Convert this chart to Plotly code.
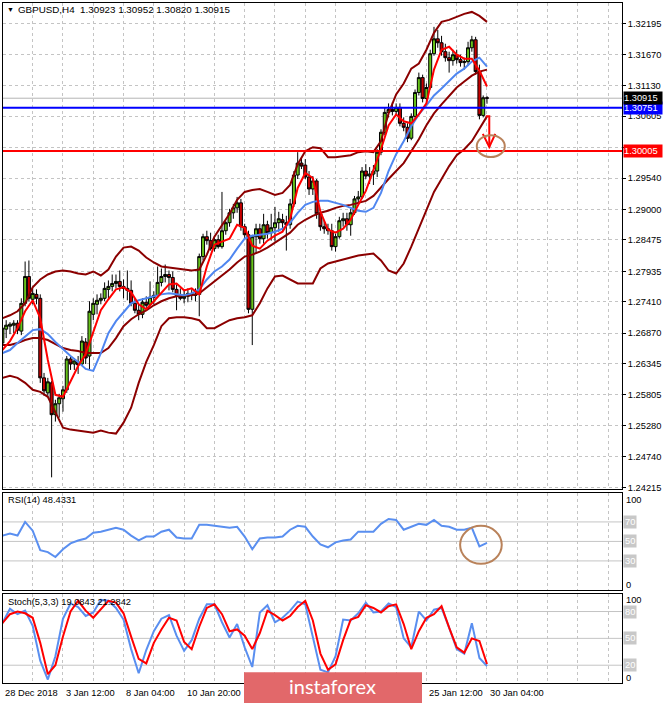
import plotly.graph_objects as go

# ---------------- data ----------------
symbol = "GBPUSD,H4"
bars = list(range(129))
open_ = [1.26698, 1.26938, 1.26989, 1.27006, 1.27040, 1.26904, 1.27383, 1.27845, 1.27452, 1.27537,
         1.27469, 1.26099, 1.25841, 1.26013, 1.25465, 1.25653, 1.25739, 1.25893, 1.26424, 1.26338,
         1.26373, 1.26338, 1.26716, 1.26475, 1.27194, 1.27366, 1.27435, 1.27469, 1.27623, 1.27674,
         1.27725, 1.27760, 1.27674, 1.27640, 1.27606, 1.27383, 1.27263, 1.27194, 1.27401, 1.27366,
         1.27486, 1.27520, 1.27743, 1.27845, 1.27879, 1.27828, 1.27623, 1.27520, 1.27469, 1.27503,
         1.27554, 1.27520, 1.27537, 1.28188, 1.28530, 1.28462, 1.28325, 1.28479, 1.28359, 1.28633,
         1.28771, 1.28942, 1.29027, 1.29113, 1.28702, 1.28564, 1.27280, 1.28530, 1.28667, 1.28496,
         1.28736, 1.28599, 1.28685, 1.28771, 1.28822, 1.28771, 1.28736, 1.29095, 1.29592, 1.29798,
         1.29763, 1.29558, 1.29352, 1.29490, 1.28924, 1.28702, 1.28667, 1.28633, 1.28359, 1.28530,
         1.28805, 1.28839, 1.28736, 1.28942, 1.29181, 1.29215, 1.29661, 1.29575, 1.29609, 1.29661,
         1.29986, 1.30329, 1.30671, 1.30722, 1.30688, 1.30757, 1.30483, 1.30414, 1.30226, 1.30602,
         1.31014, 1.31270, 1.30911, 1.31099, 1.31682, 1.31938, 1.31870, 1.31716, 1.31613, 1.31562,
         1.31664, 1.31579, 1.31528, 1.31545, 1.31784, 1.31921, 1.31373, 1.30619, 1.30923]
high = [1.27040, 1.27092, 1.27058, 1.27092, 1.27092, 1.27469, 1.28103, 1.28120, 1.27640, 1.27623,
        1.27537, 1.26184, 1.26099, 1.26048, 1.25722, 1.25824, 1.25962, 1.26475, 1.26492, 1.26441,
        1.26475, 1.26818, 1.26784, 1.27418, 1.27469, 1.27537, 1.27554, 1.27743, 1.27777, 1.27879,
        1.27879, 1.27948, 1.27794, 1.27948, 1.27777, 1.27469, 1.27366, 1.27469, 1.27503, 1.27760,
        1.27589, 1.28017, 1.27982, 1.28051, 1.27948, 1.27931, 1.27708, 1.27640, 1.27606, 1.27640,
        1.27623, 1.27640, 1.28239, 1.28581, 1.28633, 1.28599, 1.28530, 1.28564, 1.29301, 1.28805,
        1.29010, 1.29095, 1.29215, 1.29181, 1.28753, 1.28633, 1.28564, 1.28753, 1.28753, 1.28924,
        1.28805, 1.28924, 1.29044, 1.28959, 1.28924, 1.28890, 1.29181, 1.29661, 1.29986, 1.29900,
        1.29866, 1.29661, 1.29575, 1.29524, 1.28976, 1.28805, 1.28753, 1.28753, 1.28581, 1.28873,
        1.28942, 1.28942, 1.29010, 1.29232, 1.29318, 1.29729, 1.29780, 1.29729, 1.29763, 1.30037,
        1.30380, 1.30757, 1.30826, 1.30843, 1.30826, 1.30826, 1.30585, 1.30483, 1.30654, 1.31065,
        1.31356, 1.31321, 1.31168, 1.31750, 1.32144, 1.32092, 1.31989, 1.31853, 1.31716, 1.31750,
        1.31750, 1.31664, 1.31613, 1.31887, 1.31989, 1.31972, 1.31493, 1.30962, 1.30952]
low = [1.26355, 1.26784, 1.26852, 1.26869, 1.26852, 1.26835, 1.27332, 1.27418, 1.27366, 1.27366,
       1.26013, 1.25790, 1.25790, 1.24386, 1.25346, 1.25414, 1.25517, 1.25841, 1.26236, 1.26236,
       1.26167, 1.26304, 1.26338, 1.26236, 1.27092, 1.27194, 1.27366, 1.27418, 1.27469, 1.27589,
       1.27640, 1.27589, 1.27469, 1.27435, 1.27332, 1.27211, 1.27092, 1.27126, 1.27263, 1.27332,
       1.27366, 1.27503, 1.27674, 1.27743, 1.27606, 1.27572, 1.27263, 1.27435, 1.27383, 1.27401,
       1.27435, 1.27418, 1.27160, 1.28120, 1.28393, 1.28291, 1.28274, 1.28325, 1.28325, 1.28564,
       1.28702, 1.28839, 1.28942, 1.28633, 1.28496, 1.27211, 1.26664, 1.28239, 1.28410, 1.28410,
       1.28496, 1.28462, 1.28445, 1.28616, 1.28633, 1.28291, 1.28667, 1.29044, 1.29524, 1.29695,
       1.29524, 1.29249, 1.29249, 1.28839, 1.28633, 1.28581, 1.28564, 1.28291, 1.28274, 1.28496,
       1.28702, 1.28633, 1.28547, 1.28907, 1.29078, 1.29181, 1.29524, 1.29438, 1.29421, 1.29558,
       1.29934, 1.30277, 1.30585, 1.30619, 1.30619, 1.30431, 1.30346, 1.30158, 1.30192, 1.30551,
       1.30962, 1.30843, 1.30826, 1.31065, 1.31647, 1.31784, 1.31647, 1.31545, 1.31356, 1.31476,
       1.31511, 1.31459, 1.31407, 1.31476, 1.31716, 1.31321, 1.30551, 1.30585, 1.30820]
close = [1.26955, 1.27006, 1.27023, 1.27040, 1.26921, 1.27383, 1.27845, 1.27469, 1.27554, 1.27469,
         1.26099, 1.25876, 1.26031, 1.25465, 1.25653, 1.25756, 1.25893, 1.26424, 1.26338, 1.26390,
         1.26321, 1.26733, 1.26441, 1.27246, 1.27383, 1.27435, 1.27469, 1.27640, 1.27674, 1.27725,
         1.27760, 1.27674, 1.27640, 1.27606, 1.27383, 1.27263, 1.27194, 1.27401, 1.27349, 1.27486,
         1.27520, 1.27743, 1.27845, 1.27879, 1.27828, 1.27623, 1.27520, 1.27469, 1.27503, 1.27554,
         1.27520, 1.27537, 1.28188, 1.28530, 1.28462, 1.28325, 1.28479, 1.28359, 1.28633, 1.28771,
         1.28942, 1.29027, 1.29113, 1.28702, 1.28564, 1.27280, 1.28530, 1.28667, 1.28496, 1.28736,
         1.28599, 1.28685, 1.28771, 1.28839, 1.28771, 1.28736, 1.29095, 1.29592, 1.29798, 1.29746,
         1.29558, 1.29352, 1.29490, 1.28924, 1.28702, 1.28667, 1.28633, 1.28359, 1.28530, 1.28805,
         1.28839, 1.28736, 1.28942, 1.29181, 1.29215, 1.29661, 1.29575, 1.29609, 1.29661, 1.29986,
         1.30329, 1.30671, 1.30722, 1.30688, 1.30757, 1.30483, 1.30414, 1.30226, 1.30602, 1.31014,
         1.31270, 1.30911, 1.31099, 1.31682, 1.31938, 1.31870, 1.31716, 1.31613, 1.31562, 1.31664,
         1.31579, 1.31528, 1.31545, 1.31784, 1.31921, 1.31373, 1.30619, 1.30923, 1.30915]

# indicator values, sampled every second bar
ind_bars = list(range(0, 129, 2))
bb_upper = [1.27126, 1.27177, 1.27246, 1.27383, 1.27657, 1.27794, 1.27879, 1.27931, 1.27948, 1.27931,
            1.27896, 1.27879, 1.27931, 1.27862, 1.27965, 1.28188, 1.28342, 1.28359, 1.28291, 1.28171,
            1.28086, 1.28017, 1.28000, 1.27982, 1.27965, 1.27948, 1.27965, 1.28222, 1.28530, 1.28719,
            1.28924, 1.29164, 1.29301, 1.29335, 1.29352, 1.29301, 1.29249, 1.29284, 1.29421, 1.29780,
            1.30003, 1.30072, 1.30055, 1.29900, 1.29900, 1.29917, 1.29934, 1.29986, 1.30003, 1.29986,
            1.30175, 1.30654, 1.30979, 1.31168, 1.31425, 1.31511, 1.31750, 1.32041, 1.32230, 1.32264,
            1.32315, 1.32367, 1.32401, 1.32332, 1.32230]
bb_mid = [1.26664, 1.26664, 1.26698, 1.26750, 1.26784, 1.26784, 1.26750, 1.26681, 1.26612, 1.26578,
          1.26561, 1.26526, 1.26526, 1.26526, 1.26612, 1.26784, 1.26989, 1.27109, 1.27194, 1.27263,
          1.27349, 1.27418, 1.27469, 1.27503, 1.27520, 1.27520, 1.27554, 1.27657, 1.27760, 1.27862,
          1.27965, 1.28086, 1.28188, 1.28222, 1.28274, 1.28342, 1.28428, 1.28513, 1.28599, 1.28736,
          1.28822, 1.28890, 1.28942, 1.28976, 1.29027, 1.29061, 1.29078, 1.29113, 1.29147, 1.29232,
          1.29387, 1.29524, 1.29661, 1.29798, 1.30003, 1.30209, 1.30448, 1.30654, 1.30808, 1.30962,
          1.31099, 1.31202, 1.31304, 1.31373, 1.31407]
bb_lower = [1.26099, 1.26133, 1.26099, 1.26013, 1.25893, 1.25859, 1.25773, 1.25499, 1.25242, 1.25208,
            1.25191, 1.25174, 1.25156, 1.25191, 1.25156, 1.25139, 1.25328, 1.25585, 1.26013, 1.26373,
            1.26664, 1.26989, 1.27126, 1.27143, 1.27143, 1.27126, 1.27092, 1.26955, 1.26955, 1.27023,
            1.27092, 1.27126, 1.27143, 1.27177, 1.27383, 1.27640, 1.27845, 1.27862, 1.27794, 1.27725,
            1.27725, 1.27725, 1.27982, 1.28068, 1.28103, 1.28137, 1.28171, 1.28205, 1.28222, 1.28239,
            1.28120, 1.27948, 1.27896, 1.28068, 1.28359, 1.28667, 1.28993, 1.29301, 1.29524, 1.29746,
            1.29934, 1.30037, 1.30175, 1.30380, 1.30602]
ma_fast = [1.26578, 1.26733, 1.26955, 1.27246, 1.27435, 1.27126, 1.26407, 1.25807, 1.25773, 1.26031,
           1.26304, 1.26509, 1.26869, 1.27263, 1.27452, 1.27623, 1.27657, 1.27572, 1.27366, 1.27280,
           1.27418, 1.27572, 1.27708, 1.27725, 1.27606, 1.27640, 1.27537, 1.28017, 1.28393, 1.28445,
           1.28496, 1.28736, 1.28685, 1.28376, 1.28325, 1.28462, 1.28547, 1.28616, 1.28839, 1.29370,
           1.29627, 1.29541, 1.28959, 1.28650, 1.28599, 1.28667, 1.28822, 1.29078, 1.29318, 1.29678,
           1.30037, 1.30448, 1.30636, 1.30517, 1.30483, 1.30636, 1.30826, 1.31407, 1.31750, 1.31801,
           1.31664, 1.31596, 1.31596, 1.31390, 1.31116]
ma_slow = [1.26526, 1.26578, 1.26698, 1.26818, 1.26921, 1.26938, 1.26852, 1.26716, 1.26595, 1.26475,
           1.26373, 1.26253, 1.26219, 1.26526, 1.26869, 1.27075, 1.27229, 1.27383, 1.27435, 1.27469,
           1.27503, 1.27537, 1.27554, 1.27537, 1.27520, 1.27554, 1.27623, 1.27794, 1.27931, 1.28017,
           1.28137, 1.28325, 1.28496, 1.28547, 1.28564, 1.28581, 1.28616, 1.28667, 1.28771, 1.28942,
           1.29078, 1.29130, 1.29147, 1.29147, 1.29113, 1.29078, 1.29027, 1.28976, 1.28959, 1.29027,
           1.29284, 1.29661, 1.29951, 1.30175, 1.30431, 1.30636, 1.30791, 1.30962, 1.31082, 1.31219,
           1.31339, 1.31425, 1.31545, 1.31613, 1.31459]
rsi = [56, 58, 56, 70, 61, 41, 39, 34, 42, 48,
       51, 53, 59, 60, 62, 64, 62, 56, 51, 55,
       55, 60, 62, 54, 53, 53, 67, 67, 66, 65,
       64, 65, 55, 42, 53, 54, 54, 55, 62, 66,
       65, 55, 47, 44, 49, 51, 52, 60, 60, 60,
       68, 73, 72, 62, 65, 68, 67, 72, 66, 65,
       62, 62, 64, 45, 48.4331]
stoch_k = [67, 83, 77, 81, 64, 25, 4, 30, 72, 89,
           85, 75, 79, 93, 92, 84, 71, 38, 11, 37,
           58, 72, 76, 53, 36, 48, 72, 88, 88, 68,
           51, 66, 40, 18, 79, 87, 68, 73, 81, 91,
           88, 53, 15, 12, 30, 71, 70, 78, 90, 79,
           80, 89, 85, 50, 40, 80, 70, 82, 84, 62,
           38, 33, 67, 28, 19.0843]
stoch_d = [67, 77, 80, 78, 73, 45, 10, 20, 52, 80,
           92, 81, 73, 83, 92, 90, 78, 52, 27, 22,
           45, 60, 73, 70, 46, 38, 63, 84, 88, 77,
           58, 60, 53, 38, 56, 81, 76, 70, 75, 85,
           92, 70, 33, 15, 21, 48, 71, 74, 87, 84,
           79, 86, 88, 66, 38, 58, 73, 77, 86, 62,
           40, 34, 50, 47, 21.2842]

price_ticks = [1.32195, 1.31670, 1.31130, 1.30605, 1.30070, 1.29540, 1.29000, 1.28475,
               1.27935, 1.27410, 1.26870, 1.26345, 1.25805, 1.25280, 1.24740, 1.24215]
hidden_tick = 1.30070   # covered by the 1.30005 tag in the original
date_bars = [0, 16, 32, 48, 112, 128]
date_labels = ["28 Dec 2018", "3 Jan 12:00", "8 Jan 04:00", "10 Jan 20:00", "25 Jan 12:00", "30 Jan 04:00"]
level_blue = 1.30751
level_red = 1.30005
rsi_levels = [70, 50, 30]
stoch_levels = [80, 50, 20]

# ---------------- layout helpers ----------------
W, H = 665, 707
ML, MR = 3, 43
FONT = "Liberation Sans, Arial, sans-serif"
FS = 9.3


def fy(px):
    return 1 - px / H


def fx(px):
    return (px - ML) / (W - ML - MR)


bid = close[-1]

fig = go.Figure()
fig.add_trace(go.Candlestick(
    x=bars, open=open_, high=high, low=low, close=close, xaxis="x", yaxis="y",
    increasing=dict(line=dict(color="black", width=1), fillcolor="#66c21a"),
    decreasing=dict(line=dict(color="black", width=1), fillcolor="#c80000"),
    whiskerwidth=0, showlegend=False, hoverinfo="skip"))
for arr, col in [(bb_upper, "#8b0000"), (bb_mid, "#8b0000"), (bb_lower, "#8b0000"),
                 (ma_slow, "#4f86f0"), (ma_fast, "#ff0000")]:
    fig.add_trace(go.Scatter(x=ind_bars, y=arr, mode="lines", line=dict(color=col, width=2),
                             xaxis="x", yaxis="y", showlegend=False, hoverinfo="skip"))
fig.add_trace(go.Scatter(x=ind_bars, y=rsi, mode="lines", line=dict(color="#5a8ff0", width=2),
                         xaxis="x2", yaxis="y2", showlegend=False, hoverinfo="skip"))
fig.add_trace(go.Scatter(x=ind_bars, y=stoch_k, mode="lines", line=dict(color="#5a8ff0", width=2),
                         xaxis="x3", yaxis="y3", showlegend=False, hoverinfo="skip"))
fig.add_trace(go.Scatter(x=ind_bars, y=stoch_d, mode="lines", line=dict(color="#ff0000", width=2),
                         xaxis="x3", yaxis="y3", showlegend=False, hoverinfo="skip"))

xcommon = dict(range=[0.16, 163.66], showgrid=True, gridcolor="#c4c4c4", griddash="3px,3px",
               gridwidth=1, tickvals=list(range(0, 168, 8)), showticklabels=False, ticks="",
               zeroline=False, showline=True, linecolor="black", linewidth=1, mirror=True,
               fixedrange=True, domain=[0, 1])
ycommon = dict(showline=True, linecolor="black", linewidth=1, mirror=True, zeroline=False,
               fixedrange=True)

fig.update_layout(
    width=W, height=H, margin=dict(l=ML, r=MR, t=0, b=0),
    paper_bgcolor="white", plot_bgcolor="white", showlegend=False,
    boxgap=0.12, boxgroupgap=0.1,
    font=dict(family=FONT, size=FS, color="black"),
    xaxis=dict(**xcommon, anchor="y", rangeslider=dict(visible=False)),
    xaxis2=dict(**xcommon, anchor="y2"),
    xaxis3=dict(**xcommon, anchor="y3"),
    yaxis=dict(**ycommon, domain=[fy(491.5), fy(3)], range=[1.24190, 1.32555], side="right",
               anchor="x", tickvals=price_ticks,
               ticktext=["" if v == hidden_tick else f"{v:.5f}" for v in price_ticks],
               ticks="outside", ticklen=3, tickcolor="black",
               tickfont=dict(family=FONT, size=FS, color="black"),
               showgrid=True, gridcolor="#c4c4c4", griddash="3px,3px", gridwidth=1),
    yaxis2=dict(**ycommon, domain=[fy(593.5), fy(495.5)], range=[0, 100], anchor="x2",
                showticklabels=False, showgrid=False, ticks=""),
    yaxis3=dict(**ycommon, domain=[fy(687), fy(597)], range=[0, 100], anchor="x3",
                showticklabels=False, showgrid=False, ticks=""),
)

shapes = []
# horizontal price lines
shapes.append(dict(type="line", xref="x domain", yref="y", x0=0, x1=1, y0=bid, y1=bid,
                   line=dict(color="#b4b4b4", width=1), layer="below"))
shapes.append(dict(type="line", xref="x domain", yref="y", x0=0, x1=1, y0=level_blue, y1=level_blue,
                   line=dict(color="#0000ff", width=2)))
shapes.append(dict(type="line", xref="x domain", yref="y", x0=0, x1=1, y0=level_red, y1=level_red,
                   line=dict(color="#ff0000", width=2)))
for lv in rsi_levels:
    shapes.append(dict(type="line", xref="x2 domain", yref="y2", x0=0, x1=1, y0=lv, y1=lv,
                       line=dict(color="#c4c4c4", width=1), layer="below"))
for lv in stoch_levels:
    shapes.append(dict(type="line", xref="x3 domain", yref="y3", x0=0, x1=1, y0=lv, y1=lv,
                       line=dict(color="#c4c4c4", width=1), layer="below"))
# drawn objects: arrow (stub, shaft, V head) and circles
shapes.append(dict(type="path", xref="x", yref="y",
                   path="M 127.7,1.30603 L 128.6,1.30603 L 128.6,1.30075",
                   line=dict(color="#ff0000", width=2)))
shapes.append(dict(type="path", xref="x", yref="y",
                   path="M 126.9,1.30300 L 128.6,1.30075 L 130.2,1.30300",
                   line=dict(color="#ff0000", width=2)))
shapes.append(dict(type="circle", xref="x", yref="y", x0=125.3, x1=132.7, y0=1.29901, y1=1.30277,
                   line=dict(color="#b9825a", width=2)))
shapes.append(dict(type="circle", xref="x2", yref="y2", x0=120.9, x1=131.9, y0=27, y1=66,
                   line=dict(color="#b9825a", width=2)))
# banner
shapes.append(dict(type="rect", xref="paper", yref="paper", x0=fx(244), x1=fx(422), y0=fy(707),
                   y1=fy(676), fillcolor="#e2686a", line=dict(width=0), layer="above"))
fig.update_layout(shapes=shapes)

ann = []
ann.append(dict(xref="paper", yref="paper", x=fx(5), y=fy(10), text="▼", showarrow=False,
                xanchor="left", yanchor="middle", font=dict(size=7, color="black")))
title = f"{symbol}  {open_[-1]:.5f} {high[-1]:.5f} {low[-1]:.5f} {close[-1]:.5f}"
ann.append(dict(xref="paper", yref="paper", x=fx(16), y=fy(10), text=title, showarrow=False,
                xanchor="left", yanchor="middle", font=dict(size=9.8, color="black")))
# right-side price tags
for val, bg in [(level_red, "#ff0000"), (level_blue, "#0000ff"), (bid, "#000000")]:
    ann.append(dict(xref="paper", yref="y", x=1, xshift=1, y=val, text=f"{val:.5f}", showarrow=False,
                    xanchor="left", yanchor="middle", bgcolor=bg, borderpad=0, width=38, height=12,
                    align="left", font=dict(size=FS, color="white")))
# indicator titles
ann.append(dict(xref="paper", yref="paper", x=fx(6), y=fy(503), text=f"RSI(14) {rsi[-1]:.4f}",
                showarrow=False, xanchor="left", yanchor="middle", font=dict(size=FS)))
ann.append(dict(xref="paper", yref="paper", x=fx(6), y=fy(605),
                text=f"Stoch(5,3,3) {stoch_k[-1]:.4f} {stoch_d[-1]:.4f}",
                showarrow=False, xanchor="left", yanchor="middle", font=dict(size=FS)))
# indicator scales
for txt, pyy in [("100", 502.5), ("0", 588), ("100", 603), ("0", 681.5)]:
    ann.append(dict(xref="paper", yref="paper", x=1, xshift=2, y=fy(pyy), text=txt, showarrow=False,
                    xanchor="left", yanchor="middle", font=dict(size=FS)))
for lv in rsi_levels:
    ann.append(dict(xref="paper", yref="y2", x=1, xshift=1, y=lv, text=str(lv), showarrow=False,
                    xanchor="left", yanchor="middle", bgcolor="#c8c8c8", borderpad=1,
                    font=dict(size=FS, color="white")))
for lv in stoch_levels:
    ann.append(dict(xref="paper", yref="y3", x=1, xshift=1, y=lv, text=str(lv), showarrow=False,
                    xanchor="left", yanchor="middle", bgcolor="#c8c8c8", borderpad=1,
                    font=dict(size=FS, color="white")))
# date labels
for b, lab in zip(date_bars, date_labels):
    ann.append(dict(xref="x3", yref="paper", x=b + 0.25, y=fy(697), text=lab, showarrow=False,
                    xanchor="left", yanchor="middle", font=dict(size=FS)))
ann.append(dict(xref="paper", yref="paper", x=fx(332), y=fy(690), text="instaforex", showarrow=False,
                xanchor="center", yanchor="middle",
                font=dict(family="Lato, sans-serif", size=20, color="white")))
fig.update_layout(annotations=ann)

fig.write_html("out.html", config={"displayModeBar": False},
               post_script="document.body.style.margin='0px';document.body.style.overflow='hidden';")
